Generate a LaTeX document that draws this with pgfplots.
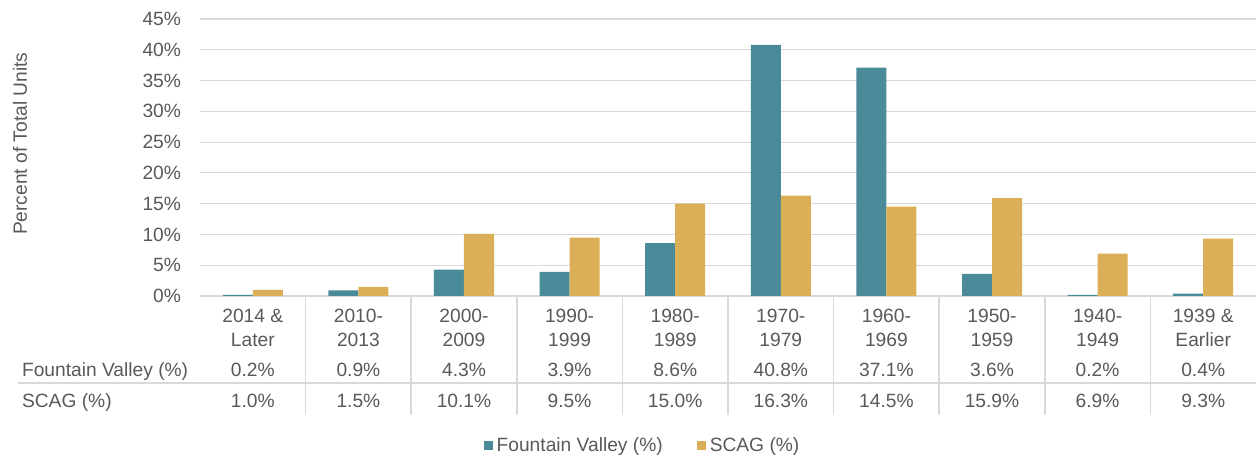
\documentclass[border=0pt]{standalone}
\usepackage{fontspec}
\setmainfont{Liberation Sans}
\usepackage{pgfplots}
\pgfplotsset{compat=1.18}
\definecolor{fvteal}{HTML}{4A8A99}
\definecolor{scaggold}{HTML}{DBAE58}
\definecolor{txt}{HTML}{595959}
\definecolor{grd}{HTML}{D9D9D9}
\begin{document}
\begin{tikzpicture}[font=\fontsize{9.6}{12.3}\selectfont, text=txt]
\useasboundingbox (0,0) rectangle (630pt,229.5pt);
\begin{axis}[
  at={(100pt,81.5pt)}, anchor=south west,
  width=528pt, height=138.5pt, scale only axis,
  xmin=-0.5, xmax=9.5, ymin=0, ymax=45,
  ybar=0pt, bar width=15pt,
  xtick={0,...,9},
  xticklabels={{2014 \&\\Later},{2010-\\2013},{2000-\\2009},{1990-\\1999},{1980-\\1989},{1970-\\1979},{1960-\\1969},{1950-\\1959},{1940-\\1949},{1939 \&\\Earlier}},
  xticklabel style={align=center, text=txt, yshift=-3pt, font=\fontsize{9.6}{12}\selectfont},
  ytick={0,5,...,45},
  yticklabel={\pgfmathprintnumber{\tick}\%},
  yticklabel style={text=txt, xshift=-6pt},
  /pgf/number format/assume math mode=true,
  major tick length=0pt, tick style={draw=none},
  ymajorgrids, grid style={grd, line width=0.6pt},
  axis x line*=bottom, axis y line*=left,
  x axis line style={grd, line width=0.6pt},
  y axis line style={draw=none},
  ylabel={Percent of Total Units},
  ylabel style={at={([xshift=-90pt]axis description cs:0,0.55)}, anchor=center, text=txt},
  clip=false,
  legend style={at={(axis description cs:0.42,-0.54)}, anchor=center, draw=none, fill=none,
    legend columns=2, text=txt, font=\fontsize{9.6}{12.3}\selectfont,
    /tikz/every even column/.append style={column sep=15pt},
    /tikz/every odd column/.append style={column sep=0pt}},
]
\addplot[fill=fvteal, draw=none, legend image code/.code={\fill[fvteal] (0pt,-2.2pt) rectangle (4.5pt,2.3pt);}]
  coordinates {(0,0.2) (1,0.9) (2,4.3) (3,3.9) (4,8.6) (5,40.8) (6,37.1) (7,3.6) (8,0.2) (9,0.4)};
\addlegendentry{Fountain Valley (\%)}
\addplot[fill=scaggold, draw=none, legend image code/.code={\fill[scaggold] (0pt,-2.2pt) rectangle (4.5pt,2.3pt);}]
  coordinates {(0,1.0) (1,1.5) (2,10.1) (3,9.5) (4,15.0) (5,16.3) (6,14.5) (7,15.9) (8,6.9) (9,9.3)};
\addlegendentry{SCAG (\%)}
% table rules
\draw[grd, line width=0.6pt] ([xshift=-91pt,yshift=-43.5pt]axis cs:-0.5,0) -- ([yshift=-43.5pt]axis cs:9.5,0);
\pgfplotsinvokeforeach{0.5,1.5,2.5,3.5,4.5,5.5,6.5,7.5,8.5}{
  \draw[grd, line width=0.8pt] (axis cs:#1,0) -- ([yshift=-59.5pt]axis cs:#1,0);
}
% row labels
\node[anchor=base west] at ([xshift=-92.5pt,yshift=-40.3pt]axis cs:-0.5,0) {Fountain Valley (\%)};
\node[anchor=base west] at ([xshift=-92.5pt,yshift=-56pt]axis cs:-0.5,0) {SCAG (\%)};
% Fountain Valley row
\node[anchor=base] at ([yshift=-40.3pt]axis cs:0,0) {0.2\%};
\node[anchor=base] at ([yshift=-40.3pt]axis cs:1,0) {0.9\%};
\node[anchor=base] at ([yshift=-40.3pt]axis cs:2,0) {4.3\%};
\node[anchor=base] at ([yshift=-40.3pt]axis cs:3,0) {3.9\%};
\node[anchor=base] at ([yshift=-40.3pt]axis cs:4,0) {8.6\%};
\node[anchor=base] at ([yshift=-40.3pt]axis cs:5,0) {40.8\%};
\node[anchor=base] at ([yshift=-40.3pt]axis cs:6,0) {37.1\%};
\node[anchor=base] at ([yshift=-40.3pt]axis cs:7,0) {3.6\%};
\node[anchor=base] at ([yshift=-40.3pt]axis cs:8,0) {0.2\%};
\node[anchor=base] at ([yshift=-40.3pt]axis cs:9,0) {0.4\%};
% SCAG row
\node[anchor=base] at ([yshift=-56pt]axis cs:0,0) {1.0\%};
\node[anchor=base] at ([yshift=-56pt]axis cs:1,0) {1.5\%};
\node[anchor=base] at ([yshift=-56pt]axis cs:2,0) {10.1\%};
\node[anchor=base] at ([yshift=-56pt]axis cs:3,0) {9.5\%};
\node[anchor=base] at ([yshift=-56pt]axis cs:4,0) {15.0\%};
\node[anchor=base] at ([yshift=-56pt]axis cs:5,0) {16.3\%};
\node[anchor=base] at ([yshift=-56pt]axis cs:6,0) {14.5\%};
\node[anchor=base] at ([yshift=-56pt]axis cs:7,0) {15.9\%};
\node[anchor=base] at ([yshift=-56pt]axis cs:8,0) {6.9\%};
\node[anchor=base] at ([yshift=-56pt]axis cs:9,0) {9.3\%};
\end{axis}
\end{tikzpicture}
\end{document}
